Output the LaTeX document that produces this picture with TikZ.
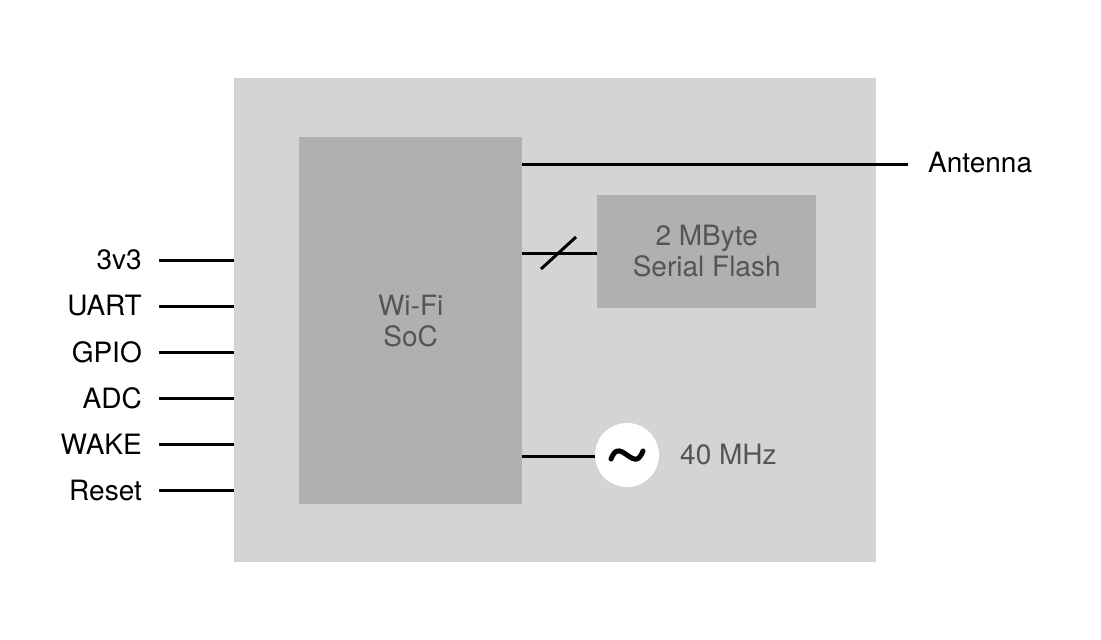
\documentclass[tikz,border=0pt]{standalone}
\usepackage{fontspec}
\setmainfont{TeX Gyre Heros}
\begin{document}
\begin{tikzpicture}[x=1pt,y=-1pt,
  lbl/.style={font=\fontsize{28}{31}\selectfont, text=black, inner sep=0pt},
  inlbl/.style={font=\fontsize{28}{31}\selectfont, text=gray55, align=center, inner sep=0pt},
  wire/.style={line width=3pt, black},
  box/.style={draw=none, inner sep=0pt}]
\definecolor{outerc}{HTML}{D4D4D4}
\definecolor{innerc}{HTML}{B0B0B0}
\definecolor{gray55}{HTML}{555555}
\useasboundingbox (0,0) rectangle (1101,640);
\fill[white] (0,0) rectangle (1101,640);
% module
\node[box, fill=outerc, minimum width=642pt, minimum height=484pt, anchor=north west] (mod) at (234,78) {};
\node[box, fill=innerc, minimum width=223pt, minimum height=367pt, anchor=north west] (soc) at (299,137) {};
\node[inlbl] at (soc.center) {Wi-Fi\\SoC};
\node[box, fill=innerc, minimum width=219pt, minimum height=113pt, anchor=north west] (flash) at (597,195) {};
\node[inlbl] at ([yshift=1pt]flash.center) {2 MByte\\Serial Flash};
\node[circle, fill=white, minimum size=64pt, inner sep=0pt] (osc) at (627,455) {};
\draw[line width=5pt, line cap=round] ([shift={(-16,4)}]osc.center) .. controls +(4,-10) and +(-8,-6) .. (osc.center) .. controls +(8,6) and +(-4,10) .. ([shift={(16,-4)}]osc.center);
\node[inlbl, anchor=west] (mhz) at (680,454) {40 MHz};
% antenna
\coordinate (antEnd) at (908,164);
\node[lbl, anchor=west] (ant) at (928,163) {Antenna};
\draw[wire] (soc.east |- antEnd) -- (antEnd);
% flash bus
\draw[wire] (soc.east |- 0,253) -- (flash.west |- 0,253);
\coordinate (s1) at (541,269);
\coordinate (s2) at (576,237);
\draw[wire] (s1) -- (s2);
% oscillator
\draw[wire] (soc.east |- 0,456) -- (osc.west |- 0,456);
% left pins
\foreach \y/\t/\n in {260/3v3/a,306/UART/b,352/GPIO/c,398/ADC/d,444/WAKE/e,490/Reset/f}{
  \node[lbl, anchor=east] (p\n) at (142,\y) {\t};
  \coordinate (q\n) at (159,\y);
  \draw[wire] (q\n) -- (mod.west |- q\n);
}
\end{tikzpicture}
\end{document}
